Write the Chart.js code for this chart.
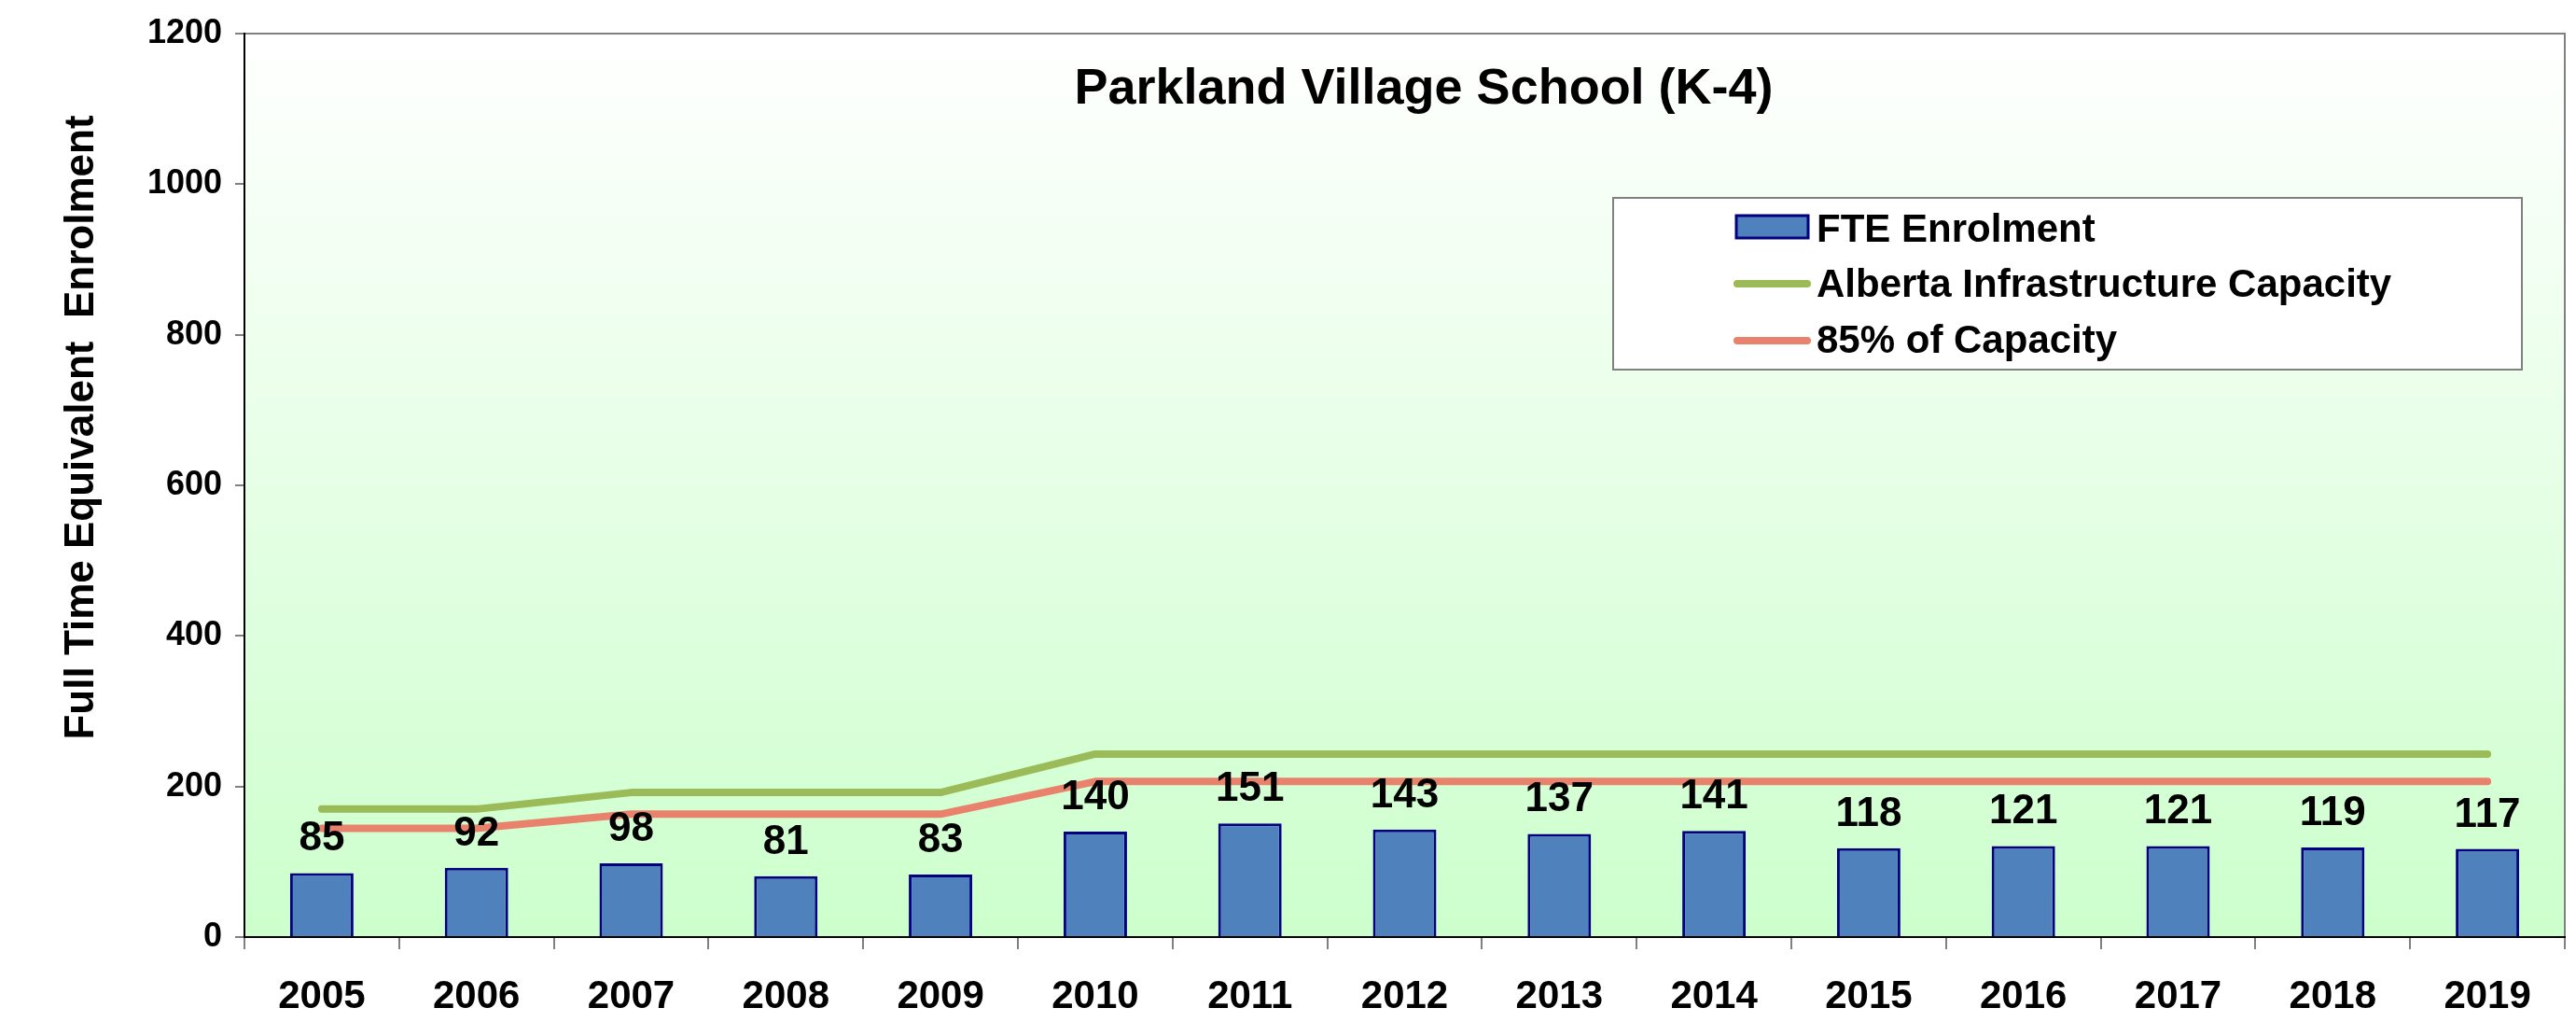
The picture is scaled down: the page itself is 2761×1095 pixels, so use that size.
<!DOCTYPE html>
<html>
<head>
<meta charset="utf-8">
<script src="https://cdn.jsdelivr.net/npm/chart.js@4.4.0/dist/chart.umd.min.js"></script>
<style>
  html, body { margin: 0; padding: 0; background: #fff; }
  #wrap { width: 2761px; height: 1095px; }
</style>
</head>
<body>
<div id="wrap"><canvas id="chart" width="2761" height="1095"></canvas></div>
<script>
const years = ["2005", "2006", "2007", "2008", "2009", "2010", "2011", "2012", "2013", "2014", "2015", "2016", "2017", "2018", "2019"];
const enrolment = [85, 92, 98, 81, 83, 140, 151, 143, 137, 141, 118, 121, 121, 119, 117];
const capacity = [170, 170, 192, 192, 192, 243, 243, 243, 243, 243, 243, 243, 243, 243, 243];
const capacity85 = [144.5, 144.5, 163.2, 163.2, 163.2, 206.6, 206.6, 206.6, 206.6, 206.6, 206.6, 206.6, 206.6, 206.6, 206.6];
const yTicks = [0, 200, 400, 600, 800, 1000, 1200];

const chartTitle = "Parkland Village School (K-4)";
const yTitle = "Full Time Equivalent  Enrolment";

const FONT = "'Liberation Sans', Arial, sans-serif";

// plot background + frame, title, data labels, legend
const decor = {
  id: 'decor',
  beforeDraw(chart) {
    const { ctx, chartArea: a } = chart;
    const g = ctx.createLinearGradient(0, a.top, 0, a.bottom);
    g.addColorStop(0, '#ffffff');
    g.addColorStop(1, '#ccffcc');
    ctx.save();
    ctx.fillStyle = g;
    ctx.fillRect(a.left, a.top, a.right - a.left, a.bottom - a.top);
    ctx.strokeStyle = '#808080';
    ctx.lineWidth = 2;
    ctx.beginPath();
    ctx.moveTo(a.left, a.top);
    ctx.lineTo(a.right, a.top);
    ctx.lineTo(a.right, a.bottom);
    ctx.stroke();
    ctx.restore();
  },
  afterDatasetsDraw(chart) {
    const { ctx } = chart;
    ctx.save();
    ctx.fillStyle = '#000';
    ctx.textAlign = 'center';
    ctx.textBaseline = 'alphabetic';
    ctx.font = "bold 44px " + FONT;
    chart.getDatasetMeta(0).data.forEach((bar, i) => {
      ctx.fillText(String(enrolment[i]), bar.x, bar.y - 24);
    });

    // chart title
    ctx.font = "bold 54px " + FONT;
    ctx.fillText(chartTitle, 1526, 111);

    // y axis title
    ctx.save();
    ctx.translate(100, 458);
    ctx.rotate(-Math.PI / 2);
    ctx.font = "bold 44px " + FONT;
    ctx.fillText(yTitle, 0, 0);
    ctx.restore();

    // legend
    ctx.fillStyle = '#ffffff';
    ctx.fillRect(1729, 212, 974, 184);
    ctx.strokeStyle = '#808080';
    ctx.lineWidth = 2;
    ctx.strokeRect(1729, 212, 974, 184);

    const ds = chart.data.datasets;
    ctx.fillStyle = ds[0].backgroundColor;
    ctx.fillRect(1861, 231, 77, 24);
    ctx.strokeStyle = ds[0].borderColor;
    ctx.lineWidth = 3;
    ctx.strokeRect(1861, 231, 77, 24);

    ctx.lineCap = 'round';
    ctx.lineWidth = 8;
    [[ds[1], 304], [ds[2], 365]].forEach(([d, y]) => {
      ctx.strokeStyle = d.borderColor;
      ctx.beginPath();
      ctx.moveTo(1862, y);
      ctx.lineTo(1937, y);
      ctx.stroke();
    });

    ctx.fillStyle = '#000';
    ctx.textAlign = 'left';
    ctx.font = "bold 42px " + FONT;
    ctx.fillText(ds[0].label, 1947, 259);
    ctx.fillText(ds[1].label, 1947, 318);
    ctx.fillText(ds[2].label, 1947, 378);
    ctx.restore();
  }
};

new Chart(document.getElementById('chart'), {
  type: 'bar',
  data: {
    labels: years,
    datasets: [
      {
        label: "FTE Enrolment",
        data: enrolment,
        backgroundColor: '#4f81bd',
        borderColor: '#000080',
        borderWidth: 3,
        barPercentage: 0.41,
        categoryPercentage: 1
      },
      {
        type: 'line',
        label: "Alberta Infrastructure Capacity",
        data: capacity,
        borderColor: '#9bbb59',
        borderWidth: 8,
        borderCapStyle: 'round',
        borderJoinStyle: 'round',
        pointRadius: 0,
        tension: 0,
        fill: false
      },
      {
        type: 'line',
        label: "85% of Capacity",
        data: capacity85,
        borderColor: '#e9826c',
        borderWidth: 8,
        borderCapStyle: 'round',
        borderJoinStyle: 'round',
        pointRadius: 0,
        tension: 0,
        fill: false
      }
    ]
  },
  options: {
    responsive: false,
    animation: false,
    layout: { padding: { top: 36, right: 12, left: 0, bottom: 0 } },
    plugins: {
      legend: { display: false },
      tooltip: { enabled: false },
      title: { display: false }
    },
    scales: {
      x: {
        grid: { offset: true, drawOnChartArea: false, color: '#808080', tickLength: 13, lineWidth: 2 },
        border: { color: '#000', width: 2 },
        ticks: {
          color: '#000',
          padding: 26,
          maxRotation: 0,
          font: { family: FONT, size: 42, weight: 'bold' }
        },
        afterFit(s) { s.height = 91; }
      },
      y: {
        min: 0,
        max: 1200,
        afterBuildTicks(s) { s.ticks = yTicks.map(v => ({ value: v })); },
        grid: { drawOnChartArea: false, color: '#808080', tickLength: 10, lineWidth: 2 },
        border: { color: '#000', width: 2 },
        ticks: {
          color: '#000',
          padding: 14,
          font: { family: FONT, size: 36, weight: 'bold' },
          callback: v => String(v)
        },
        afterFit(s) { s.width = 262; }
      }
    }
  },
  plugins: [decor]
});
</script>
</body>
</html>
